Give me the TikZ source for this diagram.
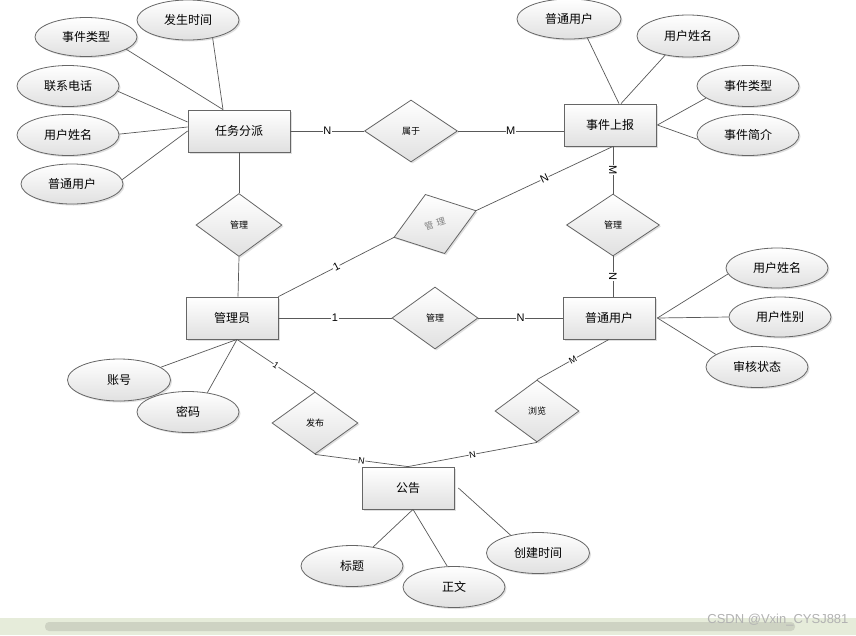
\documentclass[tikz,border=0pt]{standalone}
\usepackage{fontspec}
\newfontfamily\cjk{Noto Sans CJK SC}
\newfontfamily\lab{Liberation Sans}
\usetikzlibrary{shapes.geometric,shadows}
\definecolor{barbg}{HTML}{E6ECDA}
\definecolor{barfg}{HTML}{CED3C3}
\begin{document}
\begin{tikzpicture}[x=1pt,y=-1pt,
 shapebase/.style={draw=black!60, line width=0.8pt, top color=white, bottom color=black!12,
   drop shadow={shadow xshift=1.5pt,shadow yshift=-1.5pt,opacity=0.25},
   font=\cjk\fontsize{12}{14}\selectfont, inner sep=0pt},
 entity/.style={shapebase, rectangle, minimum width=92pt, minimum height=42pt},
 attr/.style={shapebase, ellipse, minimum width=102pt, minimum height=40pt},
 rel/.style={shapebase, diamond, minimum width=86pt, minimum height=62pt, font=\cjk\fontsize{9}{10}\selectfont},
 conn/.style={draw=black!65, line width=0.7pt},
 card/.style={font=\lab\fontsize{11}{12}\selectfont, fill=white, inner sep=0.5pt, sloped}
]
\useasboundingbox (0,0) rectangle (856,635);
\fill[white] (0,0) rectangle (856,635);

% entities
\node[entity, minimum width=102pt] (rw) at (239,131) {任务分派};
\node[entity] (sj) at (610,125) {事件上报};
\node[entity] (gly) at (232,318) {管理员};
\node[entity] (pt) at (609,318) {普通用户};
\node[entity] (gg) at (408,488) {公告};

% relationships
\node[rel, minimum width=93pt] (sy) at (411,131) {属于};
\node[rel, minimum height=63pt] (gl1) at (239,225) {管理};
% tilted diamond drawn as a path
\coordinate (gl2w) at (394.1,237.3);
\coordinate (gl2n) at (425.4,194.5);
\coordinate (gl2e) at (475.9,210.7);
\coordinate (gl2s) at (444.6,253.5);
\path[shapebase] (gl2w) -- (gl2n) -- (gl2e) -- (gl2s) -- cycle;
\node[rotate=18, text=black!50, font=\cjk\fontsize{9}{10}\selectfont, inner sep=0pt] (gl2) at (435,224) {管\kern3.5pt理};
\node[rel, minimum width=93pt] (gl3) at (613,225) {管理};
\node[rel] (gl4) at (435,318) {管理};
\node[rel] (fb) at (315,423) {发布};
\node[rel, minimum width=84pt] (ll) at (537,411) {浏览};

% attributes
\node[attr] (a1) at (188,20) {发生时间};
\node[attr, minimum height=39pt] (a2) at (86,37) {事件类型};
\node[attr, minimum height=41pt] (a3) at (68,86) {联系电话};
\node[attr, minimum height=41pt] (a4) at (68,135) {用户姓名};
\node[attr] (a5) at (72,184) {普通用户};
\node[attr, minimum width=104pt] (b1) at (569,19) {普通用户};
\node[attr, minimum height=42pt] (b2) at (688,36) {用户姓名};
\node[attr, minimum height=41pt] (b3) at (748,86) {事件类型};
\node[attr, minimum height=41pt] (b4) at (748,135) {事件简介};
\node[attr] (c1) at (777,268) {用户姓名};
\node[attr] (c2) at (780,317) {用户性别};
\node[attr, minimum height=41pt] (c3) at (757,367) {审核状态};
\node[attr, minimum width=103pt, minimum height=42pt] (d1) at (119,380) {账号};
\node[attr, minimum height=41pt] (d2) at (188,412) {密码};
\node[attr, minimum height=41pt] (e1) at (352,566) {标题};
\node[attr, minimum height=41pt] (e2) at (454,587) {正文};
\node[attr, minimum width=103pt, minimum height=41pt] (e3) at (538,553) {创建时间};

% attribute connectors
\draw[conn] (a1.-36) -- ([xshift=-16pt]rw.north);
\draw[conn] (a2.-17) -- ([xshift=-16pt]rw.north);
\draw[conn] (a3.-6) -- ([yshift=9pt]rw.west);
\draw[conn] (a4.1) -- ([yshift=4pt]rw.west);
\draw[conn] (a5.5) -- (rw.west);
\draw[conn] (b1.-46) -- ([xshift=9pt]sj.north);
\draw[conn] (b2.-140) -- ([xshift=11pt]sj.north);
\draw[conn] (b3.-164) -- ([xshift=1pt]sj.east);
\draw[conn] (b4.-175) -- ([xshift=1pt]sj.east);
\draw[conn] (c1.-173) -- ([xshift=2pt]pt.east);
\draw[conn] (c2.west) -- ([xshift=2pt]pt.east);
\draw[conn] (c3.163) -- ([xshift=2pt]pt.east);
\draw[conn] (d1.17) -- ([xshift=5pt]gly.south);
\draw[conn] (d2.45) -- ([xshift=5pt]gly.south);
\draw[conn] (e1.42) -- ([xshift=5pt]gg.south);
\draw[conn] (e2.108) -- ([xshift=5pt]gg.south);
\draw[conn] (e3.147) -- ([xshift=4pt]gg.east);

% relationship connectors
\draw[conn] (rw.east) -- node[card] {N} (sy.west);
\draw[conn] (sy.east) -- node[card] {M} ([yshift=-6pt]sj.west);
\draw[conn] (rw.south) -- (gl1.north);
\draw[conn] (gl1.south) -- ([xshift=6pt]gly.north);
\draw[conn] (gly.north east) -- node[card] {1} (gl2w);
\draw[conn] (gl2e) -- node[card] {N} ([xshift=3pt]sj.south);
\draw[conn] ([xshift=3pt]sj.south) -- node[card] {M} (gl3.north);
\draw[conn] (gl3.south) -- node[card] {N} (gl3.south |- pt.north);
\draw[conn] (gly.east) -- node[card] {1} (gl4.west);
\draw[conn] (gl4.east) -- node[card] {N} (pt.west);
\draw[conn] ([xshift=5pt]gly.south) -- node[card, font=\lab\fontsize{9}{10}\selectfont] {1} (fb.north);
\draw[conn] (fb.south) -- node[card, font=\lab\fontsize{9}{10}\selectfont] {N} (gg.north);
\draw[conn] (ll.south) -- node[card, font=\lab\fontsize{9}{10}\selectfont] {N} (gg.north);
\draw[conn] (ll.north) -- node[card, font=\lab\fontsize{9}{10}\selectfont] {M} (pt.south);

% bottom bar of the screenshot
\fill[barbg] (0,618) rectangle (856,635);
\fill[barfg, rounded corners=4pt] (45,622) rectangle (795,631);
\node[font=\lab\fontsize{13}{14}\selectfont, text=black!30, anchor=east] (wm) at (852,620) {CSDN @Vxin\_CYSJ881};
\end{tikzpicture}
\end{document}
